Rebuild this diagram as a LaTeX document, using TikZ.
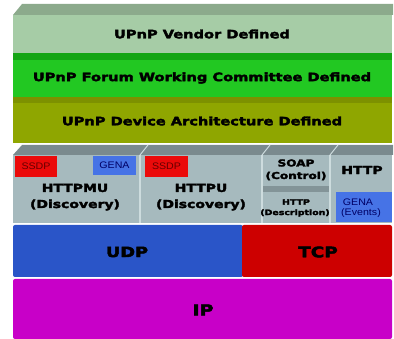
\documentclass[tikz,border=0pt]{standalone}
\usepackage{fontspec}
\newfontfamily\heavy{DejaVu Sans}[UprightFont={* Bold}, FakeBold=3, FakeStretch=1.27]
\newfontfamily\plain{Liberation Sans}[FakeStretch=1.12]
\definecolor{vendband}{RGB}{140,170,140}
\definecolor{vendbody}{RGB}{166,204,166}
\definecolor{forband}{RGB}{20,165,20}
\definecolor{forbody}{RGB}{34,200,34}
\definecolor{devband}{RGB}{125,145,0}
\definecolor{devbody}{RGB}{143,166,0}
\definecolor{grayband}{RGB}{122,138,142}
\definecolor{graybody}{RGB}{166,186,190}
\definecolor{grayline}{RGB}{205,220,222}
\definecolor{ssdpred}{RGB}{235,10,10}
\definecolor{genablue}{RGB}{70,115,230}
\definecolor{udpblue}{RGB}{42,85,200}
\definecolor{tcpred}{RGB}{205,0,0}
\definecolor{ipmag}{RGB}{200,0,200}
\tikzset{
  heavytext/.style={font=\heavy\fontsize{#1}{#1}\selectfont, text=black, inner sep=0pt},
  heavytext/.default=11,
  smalltext/.style={font=\plain\fontsize{#1}{#1}\selectfont, inner sep=0pt},
  smalltext/.default=9.5,
}
\begin{document}
\begin{tikzpicture}[x=1pt,y=-1pt]
\useasboundingbox (0,0) rectangle (394,339);
\fill[white] (0,0) rectangle (394,339);
% Vendor layer
\fill[vendband] (22,4) -- (393,4) -- (393,15) -- (13,15) -- cycle;
\fill[vendbody] (13,15) rectangle (392,53);
\node[heavytext=11.5] (vendor) at (202,34) {UPnP Vendor Defined};
% Forum layer
\fill[forband] (13,53) rectangle (392,60);
\fill[forbody] (13,60) rectangle (392,97);
\node[heavytext=11.5] (forum) at (202,78) {UPnP Forum Working Committee Defined};
% Device layer
\fill[devband] (13,97) rectangle (392,103);
\fill[devbody] (13,103) rectangle (392,143);
\node[heavytext=11.5] (device) at (202,121) {UPnP Device Architecture Defined};
% Gray layer
\fill[grayband] (22,145) -- (393,145) -- (393,155) -- (13,155) -- cycle;
\fill[graybody] (13,155) rectangle (392,223);
\foreach \x in {140,262,330} {
  \draw[grayline, line width=1.5pt] (\x,155) -- (\x,223);
  \draw[grayline, line width=1pt] (\x,155) -- (\x+8,145);
}
% HTTPMU
\fill[ssdpred] (15,156) rectangle (57,177);
\node[smalltext, text=red!40!black] (ssdp1) at (36,166.5) {SSDP};
\fill[genablue] (93,156) rectangle (136,175);
\node[smalltext, text=blue!40!black] (gena1) at (114.5,165.5) {GENA};
\node[heavytext=11] (httpmu) at (75,188) {HTTPMU};
\node[heavytext=11] (disc1) at (75,205) {(Discovery)};
% HTTPU
\fill[ssdpred] (145,156) rectangle (188,177);
\node[smalltext, text=red!40!black] (ssdp2) at (166.5,166.5) {SSDP};
\node[heavytext=11] (httpu) at (201,188) {HTTPU};
\node[heavytext=11] (disc2) at (201,205) {(Discovery)};
% SOAP / HTTP description
\node[heavytext=9.5] (soap) at (296,163) {SOAP};
\node[heavytext=9.5] (control) at (296,176) {(Control)};
\fill[grayband!80!graybody] (263,186) rectangle (329,192);
\node[heavytext=7.4] (httpd) at (296,202) {HTTP};
\node[heavytext=7.4] (descr) at (295,213) {(Description)};
% HTTP column
\node[heavytext=11] (http) at (362,170) {HTTP};
\fill[genablue] (336,192) rectangle (392,222);
\node[smalltext, text=blue!40!black] (gena2) at (358,202) {GENA};
\node[smalltext, text=blue!40!black] (events) at (361,213) {(Events)};
% UDP / TCP
\fill[udpblue, rounded corners=2pt] (13,225) rectangle (243,277);
\fill[tcpred, rounded corners=2pt] (242,225) rectangle (392,277);
\node[heavytext=14] (udp) at (127,252) {UDP};
\node[heavytext=14.5] (tcp) at (318,252) {TCP};
% IP
\fill[ipmag, rounded corners=2pt] (13,279) rectangle (392,339);
\node[heavytext=15] (ip) at (203,310) {IP};
\end{tikzpicture}
\end{document}
